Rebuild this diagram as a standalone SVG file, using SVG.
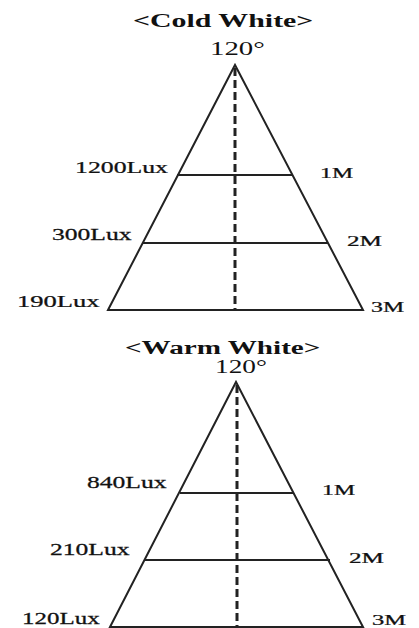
<svg xmlns="http://www.w3.org/2000/svg" width="419" height="628" viewBox="0 0 419 628">
<style>
text{font-family:"Liberation Serif","Times New Roman",serif;fill:#111}
.h{font-weight:bold;font-size:18px}
.a{font-size:19px}
.l{font-size:16px;stroke:#111;stroke-width:0.25}
.m{font-size:14px;stroke:#111;stroke-width:0.25}
.s{stroke:#222;stroke-width:2;fill:none}
.d{stroke:#222;stroke-width:3;stroke-dasharray:8 4;fill:none}
</style>
<rect width="419" height="628" fill="#fff"/>
<g id="cold">
<text class="h" transform="matrix(1.66 0 0 1 133 27)">&lt;Cold White&gt;</text>
<text class="a" transform="matrix(1.52 0 0 1 210 55)">120°</text>
<path class="s" d="M108 310 L235 65 L363 310 Z"/>
<line class="s" x1="177" y1="175" x2="293" y2="175"/>
<line class="s" x1="143" y1="243" x2="328" y2="243"/>
<line class="d" x1="235" y1="68" x2="235" y2="309"/>
<text class="l" transform="matrix(1.61 0 0 1 75 173)">1200Lux</text>
<text class="l" transform="matrix(1.6 0 0 1 52 240)">300Lux</text>
<text class="l" transform="matrix(1.66 0 0 1 17 307)">190Lux</text>
<text class="m" transform="matrix(1.7 0 0 1 320 178)">1M</text>
<text class="m" transform="matrix(1.8 0 0 1 347 246)">2M</text>
<text class="m" transform="matrix(1.7 0 0 1 371 312)">3M</text>
</g>
<g id="warm">
<text class="h" transform="matrix(1.62 0 0 1 125 354)">&lt;Warm White&gt;</text>
<text class="a" transform="matrix(1.44 0 0 1 215 373)">120°</text>
<path class="s" d="M110 627 L236 382 L363 627 Z"/>
<line class="s" x1="180" y1="493" x2="294" y2="493"/>
<line class="s" x1="145" y1="560" x2="330" y2="560"/>
<line class="d" x1="237" y1="385" x2="237" y2="626"/>
<text class="l" transform="matrix(1.6 0 0 1 87 488)">840Lux</text>
<text class="l" transform="matrix(1.6 0 0 1 50 555)">210Lux</text>
<text class="l" transform="matrix(1.56 0 0 1 22 624)">120Lux</text>
<text class="m" transform="matrix(1.7 0 0 1 322 495)">1M</text>
<text class="m" transform="matrix(1.8 0 0 1 349 563)">2M</text>
<text class="m" transform="matrix(1.75 0 0 1 372 625)">3M</text>
</g>
</svg>
